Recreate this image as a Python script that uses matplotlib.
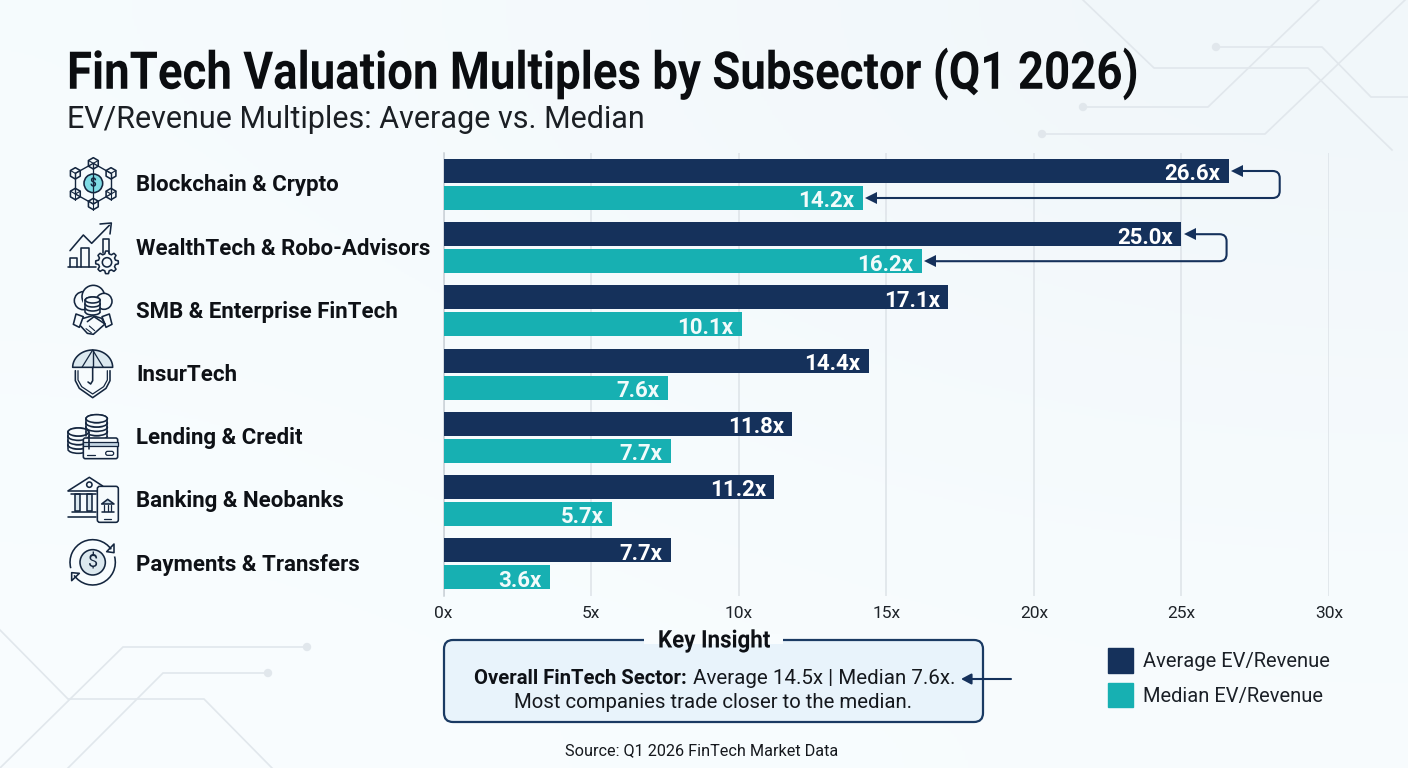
import numpy as np
import matplotlib
matplotlib.use("Agg")
import matplotlib.pyplot as plt
from matplotlib.patches import Circle, Ellipse, FancyBboxPatch, Polygon, Rectangle, Arc, Patch, PathPatch
from matplotlib.path import Path
from matplotlib.patheffects import AbstractPathEffect
from matplotlib.transforms import Affine2D

plt.rcParams["font.family"] = ["Roboto", "DejaVu Sans"]

categories = [
    "Blockchain & Crypto",
    "WealthTech & Robo-Advisors",
    "SMB & Enterprise FinTech",
    "InsurTech",
    "Lending & Credit",
    "Banking & Neobanks",
    "Payments & Transfers",
]
average = [26.6, 25.0, 17.1, 14.4, 11.8, 11.2, 7.7]
median = [14.2, 16.2, 10.1, 7.6, 7.7, 5.7, 3.6]
x_ticks = [0, 5, 10, 15, 20, 25, 30]

NAVY = "#15315b"
TEAL = "#17b0b2"
INK = "#14263f"
W, H = 1408, 768


class Squeeze(AbstractPathEffect):
    # Narrows glyphs horizontally around a fixed x position, for a condensed look
    def __init__(self, sx, x0):
        super().__init__()
        self.sx = sx
        self.x0 = x0

    def draw_path(self, renderer, gc, tpath, affine, rgbFace=None):
        squeeze = Affine2D().translate(-self.x0, 0).scale(self.sx, 1).translate(self.x0, 0)
        renderer.draw_path(gc, tpath, affine + squeeze, rgbFace)


fig = plt.figure(figsize=(W / 100, H / 100), dpi=100, facecolor="#f8fcfe")

# Pixel-space layers: one behind the chart, one on top of it
back = fig.add_axes([0, 0, 1, 1], zorder=0)
back.set_xlim(0, W)
back.set_ylim(H, 0)
back.axis("off")
top = fig.add_axes([0, 0, 1, 1], zorder=2)
top.set_xlim(0, W)
top.set_ylim(H, 0)
top.axis("off")
top.patch.set_alpha(0)

# Soft wash of the background, slightly greyer towards the upper right
wash = np.array([[[0.965, 0.985, 0.995], [0.945, 0.968, 0.98]],
                 [[0.975, 0.992, 0.998], [0.97, 0.988, 0.996]]])
back.imshow(wash, extent=[0, W, H, 0], interpolation="bicubic", aspect="auto")
back.set_xlim(0, W)
back.set_ylim(H, 0)

# Circuit traces
traces = [
    ([(1083, 0), (1154, 68), (1308, 68), (1392, 150)], None),
    ([(1216, 47), (1322, 47), (1371, 97), (1408, 97)], (1216, 47)),
    ([(1083, 107), (1208, 107), (1319, 0)], (1083, 107)),
    ([(1042, 134), (1265, 134), (1405, 0)], (1042, 134)),
    ([(0, 630), (68, 699), (204, 699), (272, 768)], None),
    ([(0, 768), (123, 647), (307, 647)], (307, 647)),
    ([(68, 768), (163, 673), (268, 673)], (268, 673)),
]
for pts, dot in traces:
    xs, ys = zip(*pts)
    back.plot(xs, ys, color="#e1e7ec", lw=1.2, solid_joinstyle="miter")
    if dot:
        back.add_patch(Circle(dot, 4.2, color="#e1e7ec", lw=0))

# Main chart
ax = fig.add_axes([443.5 / W, 1 - 596 / H, (1329 - 443.5) / W, (596 - 153) / H], zorder=1)
ax.patch.set_alpha(0)
row_px = 63.2
ax.set_xlim(0, 30)
ax.set_ylim((596 - 184.5) / row_px, (153 - 184.5) / row_px)
y = np.arange(len(categories))
off = 13.5 / row_px
bar_h = 24 / row_px

ax.set_axisbelow(True)
ax.xaxis.grid(True, color="#dde3e8", lw=1.1)
ax.yaxis.set_visible(False)
for s in ["top", "right", "bottom"]:
    ax.spines[s].set_visible(False)
ax.spines["left"].set_color("#c9d0d6")
ax.spines["left"].set_linewidth(1.1)
ax.set_xticks(x_ticks)
ax.set_xticklabels([f"{t}x" for t in x_ticks], fontsize=12.5, color="#1e2329")
ax.tick_params(axis="x", length=0, pad=7)

ax.barh(y - off, average, height=bar_h, color=NAVY, label="Average EV/Revenue", zorder=3)
ax.barh(y + off, median, height=bar_h, color=TEAL, label="Median EV/Revenue", zorder=3)

for i in y:
    ax.text(average[i] - 0.27, i - off + 0.015, f"{average[i]:.1f}x", color="white", fontsize=16,
            fontweight="bold", ha="right", va="center_baseline", zorder=4)
    ax.text(median[i] - 0.27, i + off + 0.015, f"{median[i]:.1f}x", color="#f2fbfb", fontsize=16,
            fontweight="bold", ha="right", va="center_baseline", zorder=4)

# Brackets tying average to median on the two widest rows
for i, reach in [(0, 1.73), (1, 1.53)]:
    xr = average[i] + reach
    ya, ym = i - off, i + off
    r = 7 / row_px
    rx = 0.24
    verts = [(median[i] + 0.35, ym), (xr - rx, ym), (xr, ym), (xr, ym - r), (xr, ya + r),
             (xr, ya), (xr - rx, ya), (average[i] + 0.35, ya)]
    codes = [Path.MOVETO, Path.LINETO, Path.CURVE3, Path.CURVE3, Path.LINETO,
             Path.CURVE3, Path.CURVE3, Path.LINETO]
    ax.add_patch(PathPatch(Path(verts, codes), fc="none", ec=NAVY, lw=1.5, zorder=5))
    ax.plot([average[i] + 0.28, median[i] + 0.28], [ya, ym], ls="none", marker="<",
            ms=9, color=NAVY, mew=0, zorder=6)

# Title block
top.text(67, 74, "FinTech Valuation Multiples by Subsector (Q1 2026)", fontsize=37.5,
         fontweight="bold", color="#0b0d10", va="center", path_effects=[Squeeze(0.876, 67)])
top.text(67, 119, "EV/Revenue Multiples: Average vs. Median", fontsize=22, color="#1b1f24", va="center")

# Category names
for i, name in enumerate(categories):
    top.text(136, 185.5 + i * row_px, name, fontsize=16.05, fontweight="bold", color="#0e1116",
             va="center")


# Icon helpers, coordinates given on a 3x grid relative to an origin
def line(org, pts, lw=1.15, fc="none", close=False):
    p = [(org[0] + a / 3, org[1] + b / 3) for a, b in pts]
    if close or fc != "none":
        top.add_patch(Polygon(p, closed=True, fc=fc, ec=INK, lw=lw, joinstyle="round"))
    else:
        xs, ys = zip(*p)
        top.plot(xs, ys, color=INK, lw=lw, solid_capstyle="round", solid_joinstyle="round")


def circ(org, c, r, lw=1.15, fc="none"):
    top.add_patch(Circle((org[0] + c[0] / 3, org[1] + c[1] / 3), r / 3, fc=fc, ec=INK, lw=lw))


def cube(org, c, r=17):
    a = np.radians(np.arange(30, 390, 60))
    line(org, [(c[0] + r * np.cos(t), c[1] + r * np.sin(t)) for t in a], close=True, fc="#f6fbfd")
    line(org, [(c[0] - r * .87, c[1] - r * .5), c, (c[0] + r * .87, c[1] - r * .5)], lw=.8)
    line(org, [c, (c[0], c[1] + r)], lw=.8)


def stack(org, cx, ytop, rx, ry, n, step):
    for k in range(n - 1, -1, -1):
        yc = ytop + k * step
        top.add_patch(Ellipse((org[0] + cx / 3, org[1] + yc / 3), 2 * rx / 3, 2 * ry / 3,
                              fc="#f6fbfd", ec=INK, lw=1.15))
        top.add_patch(Rectangle((org[0] + (cx - rx) / 3, org[1] + yc / 3), 2 * rx / 3, step / 3,
                                fc="#f6fbfd", ec="none"))
        line(org, [(cx - rx, yc), (cx - rx, yc + step)])
        line(org, [(cx + rx, yc), (cx + rx, yc + step)])
        top.add_patch(Arc((org[0] + cx / 3, org[1] + (yc + step) / 3), 2 * rx / 3, 2 * ry / 3,
                          theta1=0, theta2=180, ec=INK, lw=1.15))
    top.add_patch(Ellipse((org[0] + cx / 3, org[1] + ytop / 3), 2 * rx / 3, 2 * ry / 3,
                          fc="#f6fbfd", ec=INK, lw=1.15))


# Blockchain network
o1 = (50, 140)
hub = (130, 130)
nodes = [(130, 70), (183, 100), (183, 162), (130, 192), (76, 162), (76, 100)]
for k, n in enumerate(nodes):
    line(o1, [n, nodes[(k + 1) % 6]], lw=1.0)
for n in (nodes[0], nodes[3]):
    line(o1, [n, hub], lw=.9)
circ(o1, hub, 28, fc="#7fdbe4")
top.text(o1[0] + hub[0] / 3, o1[1] + hub[1] / 3, "$", fontsize=8.5, color=INK, ha="center",
         va="center", fontweight="bold")
for n in nodes:
    cube(o1, n)

# Growth chart and gear
line(o1, [(60, 332), (100, 285), (125, 310), (178, 256)])
line(o1, [(150, 252), (184, 249), (180, 282)])
for x0, x1, y0 in [(60, 82, 355), (92, 118, 325), (158, 176, 298)]:
    line(o1, [(x0, 380 if x0 < 150 else 338), (x0, y0), (x1, y0), (x1, 380 if x0 < 150 else 338)])
line(o1, [(55, 380), (138, 380)])
gear = []
for t in np.radians(np.arange(0, 360, 7.5)):
    rr = 34 if np.cos(8 * t) > 0 else 26
    gear.append((171 + rr * np.cos(t), 367 + rr * np.sin(t)))
line(o1, gear, close=True, fc="#f6fbfd")
circ(o1, (171, 367), 14)

# Cloud, database and handshake
for c, r in [((100, 482), 27), ((130, 470), 34), ((162, 484), 24)]:
    circ(o1, c, r, fc="#f6fbfd")
top.add_patch(Rectangle((o1[0] + 98 / 3, o1[1] + 476 / 3), 68 / 3, 24 / 3, fc="#f6fbfd", ec="none"))
stack(o1, 128, 480, 22, 9, 3, 12)
line(o1, [(78, 522), (100, 530), (88, 562), (70, 553)], close=True, fc="#f6fbfd")
line(o1, [(178, 522), (156, 530), (168, 562), (186, 553)], close=True, fc="#f6fbfd")
line(o1, [(100, 535), (128, 527), (155, 535), (165, 552), (130, 583), (112, 580), (92, 558)])
line(o1, [(112, 545), (132, 530), (165, 552)])
line(o1, [(108, 566), (124, 578)], lw=.8)
line(o1, [(118, 558), (134, 572)], lw=.8)

# Umbrella over a shield
o2 = (50, 350)
dome = [(128 + 60 * np.cos(t), 52 - 52 * np.sin(t)) for t in np.linspace(0, np.pi, 30)]
line(o2, dome, fc="#dbe8ef")
line(o2, [(128, 0), (128, 52)], lw=1.0)
line(o2, [(128, 0), (96, 52)], lw=.9)
line(o2, [(128, 0), (160, 52)], lw=.9)
line(o2, [(76, 62), (76, 92), (88, 115), (128, 143), (168, 115), (180, 92), (180, 62)])
line(o2, [(84, 62), (84, 90), (95, 110), (128, 132), (161, 110), (172, 90), (172, 62)], lw=.9)
line(o2, [(128, 52), (128, 92), (122, 102), (114, 96)])

# Coins and card
stack(o2, 140, 206, 32, 12, 4, 13)
stack(o2, 85, 246, 31, 12, 4, 13)
top.add_patch(FancyBboxPatch((o2[0] + 100 / 3, o2[1] + 264 / 3), 103 / 3, 62 / 3,
                             boxstyle="round,pad=0,rounding_size=2", fc="#f6fbfd", ec=INK, lw=1.15))
top.add_patch(Rectangle((o2[0] + 99 / 3, o2[1] + 276 / 3), 105 / 3, 13 / 3, fc="#c3d6e3", ec=INK, lw=.9))
line(o2, [(110, 314), (134, 314)], lw=.9)
top.add_patch(FancyBboxPatch((o2[0] + 167 / 3, o2[1] + 304 / 3), 24 / 3, 12 / 3,
                             boxstyle="round,pad=0,rounding_size=2", fc="none", ec=INK, lw=.9))

# Bank and phone
line(o2, [(55, 422), (118, 382), (158, 408)])
line(o2, [(55, 422), (140, 422)])
circ(o2, (118, 404), 8)
for c in [(82, 438), (118, 438)]:
    line(o2, [(c[0] - 8, 432), (c[0] - 8, 482), (c[0] + 8, 482), (c[0] + 8, 432)], fc="#dbe8ef")
line(o2, [(62, 432), (138, 432)])
line(o2, [(66, 486), (138, 486)])
line(o2, [(55, 500), (138, 500)])
top.add_patch(FancyBboxPatch((o2[0] + 142 / 3, o2[1] + 409 / 3), 63 / 3, 108 / 3,
                             boxstyle="round,pad=0,rounding_size=2.5", fc="#f6fbfd", ec=INK, lw=1.15))
line(o2, [(155, 462), (173, 448), (192, 462), (155, 462)], fc="#c3d6e3")
for c in (162, 173, 184):
    line(o2, [(c, 466), (c, 482)], lw=.9)
line(o2, [(155, 486), (192, 486)])
line(o2, [(163, 508), (183, 508)], lw=.9)

# Circular transfer arrows around a coin
circ(o2, (128, 637), 38, fc="#dbe8ef")
top.text(o2[0] + 128 / 3, o2[1] + 637 / 3, "$", fontsize=13, color=INK, ha="center", va="center")
centre = (o2[0] + 128 / 3, o2[1] + 637 / 3)
top.add_patch(Arc(centre, 136 / 3, 136 / 3, theta1=165, theta2=325, ec=INK, lw=1.15))
top.add_patch(Arc(centre, 136 / 3, 136 / 3, theta1=-15, theta2=145, ec=INK, lw=1.15))
line(o2, [(192, 582), (170, 605), (192, 608)], close=True)
line(o2, [(65, 692), (88, 670), (65, 668)], close=True)

# Key insight callout
top.add_patch(FancyBboxPatch((444, 640), 539, 82, boxstyle="round,pad=0,rounding_size=9",
                             fc="#e8f3fb", ec="#1a3a63", lw=1.6))
top.add_patch(Rectangle((644, 634), 139, 10, fc="#f8fcfe", ec="none"))
top.text(714, 641, "Key Insight", fontsize=17.5, fontweight="bold", color="#0e1116", ha="center",
         va="center", path_effects=[Squeeze(0.92, 714)])
top.text(474, 679, "Overall FinTech Sector:", fontsize=14.6, fontweight="bold", color="#0e1116", va="center")
top.text(955, 679, "Average 14.5x | Median 7.6x.", fontsize=14.75, color="#15181d", ha="right", va="center")
top.text(713.5, 703, "Most companies trade closer to the median.", fontsize=14.7, color="#15181d",
         ha="center", va="center")
top.annotate("", xy=(961, 679), xytext=(1011, 679),
             arrowprops=dict(arrowstyle="-|>,head_length=0.6,head_width=0.32", color=NAVY, lw=1.5,
                             shrinkA=0, shrinkB=0))

# Legend and source line
top.legend(handles=[Patch(color=NAVY, label="Average EV/Revenue"), Patch(color=TEAL, label="Median EV/Revenue")],
           loc="upper left", bbox_to_anchor=(1108, 648), bbox_transform=top.transData,
           frameon=False, fontsize=14.5, handlelength=1.24, handleheight=1.5, labelspacing=0.5,
           handletextpad=0.5, borderpad=0, borderaxespad=0, labelcolor="#1b2027")
top.text(701.5, 751, "Source: Q1 2026 FinTech Market Data", fontsize=11.7, color="#15181d", ha="center", va="center")

fig.savefig("out.png", dpi=100, facecolor=fig.get_facecolor())
